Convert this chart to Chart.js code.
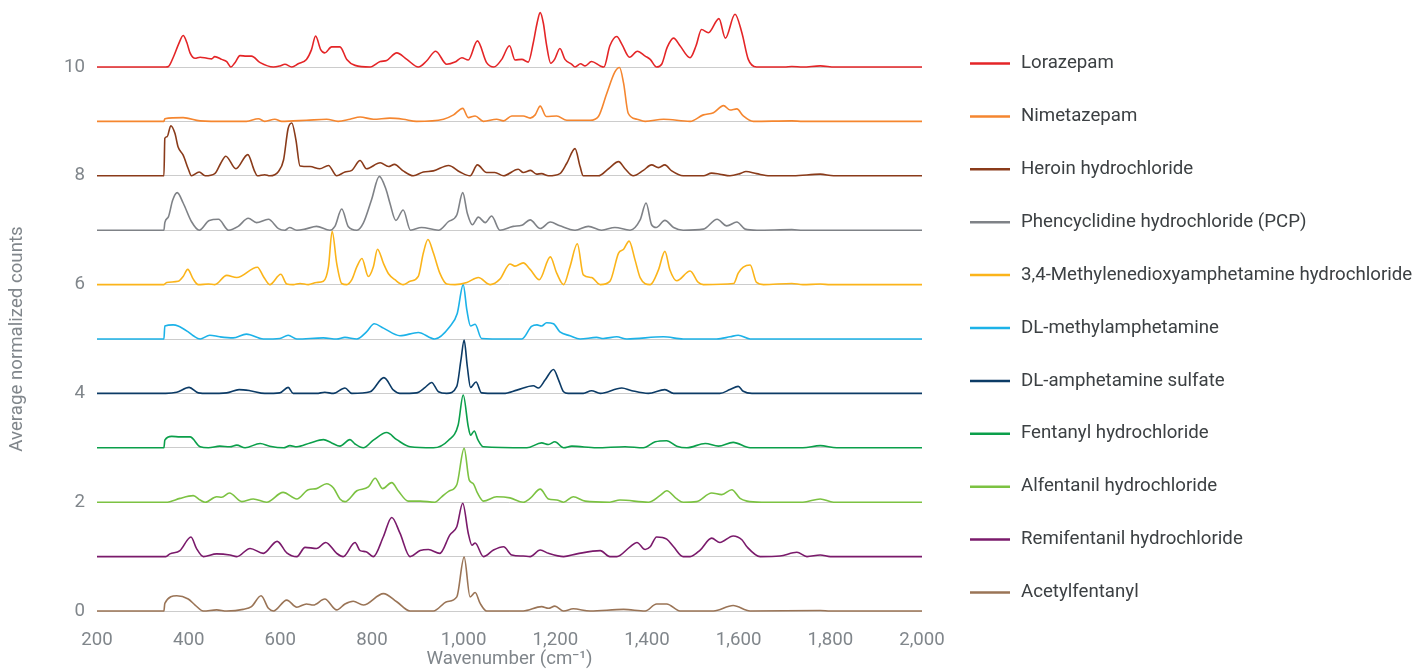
<!DOCTYPE html>
<html><head><meta charset="utf-8">
<script src="https://cdn.jsdelivr.net/npm/chart.js@4"></script>
<style>html,body{margin:0;padding:0;background:#fff}#wrap{width:1414px;height:671px;position:relative}</style>
</head><body><div id="wrap"><canvas id="c" width="1414" height="671"></canvas></div>
<script>
const seriesNames = ["Lorazepam","Nimetazepam","Heroin hydrochloride","Phencyclidine hydrochloride (PCP)","3,4-Methylenedioxyamphetamine hydrochloride","DL-methylamphetamine","DL-amphetamine sulfate","Fentanyl hydrochloride","Alfentanil hydrochloride","Remifentanil hydrochloride","Acetylfentanyl"];
const seriesColors = ["#e42527","#f5862f","#8a3b1a","#7f8287","#fbb41a","#1cb2e8","#0c3b66","#0b9f4a","#7cc242","#7a1a6b","#9a7456"];
const offsets = [10,9,8,7,6,5,4,3,2,1,0];
const xTicks = [200,400,600,800,1000,1200,1400,1600,1800,2000];
const yTickLabels = [0,2,4,6,8,10];

const lorazepam = [[200,0],[350,0],[356,0.01],[366,0.17],[378,0.42],[388,0.58],[396,0.45],[403,0.26],[414,0.16],[425,0.18],[440,0.16],[450,0.15],[457,0.19],[472,0.14],[483,0.10],[492,0],[501,0.08],[512,0.21],[526,0.20],[537,0.20],[556,0.08],[585,0],[599,0.02],[610,0.05],[625,0],[639,0.06],[657,0.14],[668,0.32],[677,0.57],[688,0.32],[697,0.26],[712,0.37],[730,0.37],[745,0.14],[763,0.03],[796,0],[818,0.10],[832,0.12],[854,0.26],[876,0.14],[901,0],[919,0.11],[939,0.29],[963,0.05],[981,0.09],[996,0.17],[1010,0.13],[1030,0.48],[1050,0.08],[1066,0],[1083,0.14],[1100,0.39],[1112,0.13],[1127,0.14],[1141,0.09],[1152,0.45],[1160,0.80],[1167,1.0],[1174,0.80],[1180,0.45],[1190,0.07],[1199,0.15],[1210,0.34],[1221,0.14],[1236,0.05],[1243,0],[1255,0.06],[1265,0.02],[1279,0.10],[1298,0.02],[1306,0],[1319,0.39],[1334,0.56],[1345,0.42],[1362,0.18],[1379,0.29],[1396,0.20],[1407,0.14],[1421,0],[1432,0.05],[1444,0.36],[1458,0.53],[1472,0.39],[1494,0.17],[1507,0.39],[1519,0.69],[1534,0.63],[1557,0.89],[1571,0.53],[1592,0.97],[1607,0.63],[1621,0.14],[1639,0],[1700,0],[1716,0.01],[1740,0],[1778,0.02],[1810,0],[2000,0]];
const nimetazepam = [[200,0],[346,0],[348,0.05],[388,0.07],[425,0.01],[483,0],[526,0],[552,0.05],[566,0],[588,0.04],[603,0],[628,0.01],[657,0.02],[701,0.04],[726,0],[752,0.04],[774,0.08],[803,0.04],[839,0.06],[868,0.04],[897,0],[956,0.04],[978,0.12],[998,0.24],[1010,0.07],[1025,0.10],[1043,0],[1072,0.04],[1087,0.01],[1105,0.10],[1130,0.10],[1145,0.06],[1156,0.12],[1167,0.28],[1180,0.09],[1203,0.10],[1225,0.02],[1276,0.02],[1294,0.09],[1312,0.51],[1330,0.91],[1340,0.99],[1349,0.70],[1359,0.15],[1378,0.04],[1396,0],[1436,0.04],[1494,0],[1523,0.12],[1545,0.16],[1567,0.29],[1581,0.21],[1596,0.23],[1610,0.10],[1632,0],[1716,0.01],[1740,0],[2000,0]];
const heroin = [[200,0],[346,0],[348,0.69],[353,0.72],[361,0.92],[370,0.78],[377,0.53],[388,0.38],[399,0.13],[406,0],[423,0.07],[436,0],[457,0.04],[470,0.23],[481,0.36],[503,0.13],[529,0.39],[543,0.10],[550,0],[566,0.02],[577,0],[596,0.08],[607,0.29],[617,0.87],[625,0.97],[634,0.66],[643,0.18],[665,0.17],[686,0.13],[705,0.19],[723,0],[741,0.07],[756,0.10],[774,0.28],[788,0.13],[818,0.24],[836,0.17],[849,0.21],[868,0.09],[890,0],[912,0.07],[934,0.09],[967,0.19],[992,0.07],[1014,0],[1030,0.20],[1050,0.06],[1068,0.06],[1087,0],[1119,0.12],[1130,0.06],[1146,0.10],[1159,0.03],[1170,0.04],[1185,0],[1210,0.04],[1225,0.23],[1243,0.50],[1254,0.17],[1261,0],[1294,0],[1316,0.13],[1338,0.26],[1352,0.13],[1370,0],[1392,0.10],[1410,0.20],[1425,0.15],[1439,0.20],[1454,0.09],[1479,0],[1523,0],[1541,0.05],[1559,0.03],[1581,0],[1603,0.04],[1616,0.08],[1639,0.04],[1668,0],[1719,0],[1778,0.03],[1807,0],[2000,0]];
const pcp = [[200,0],[346,0],[348,0.14],[356,0.25],[365,0.55],[375,0.69],[388,0.50],[406,0.16],[423,0],[445,0.18],[465,0.20],[487,0],[508,0.07],[530,0.22],[548,0.14],[574,0.20],[596,0.03],[610,0],[620,0.05],[636,0],[654,0.02],[679,0.07],[708,0],[719,0.07],[734,0.39],[748,0.07],[767,0],[781,0.13],[799,0.56],[816,0.99],[831,0.74],[839,0.50],[852,0.18],[868,0.37],[884,0],[908,0.05],[945,0],[967,0.16],[985,0.28],[998,0.69],[1008,0.31],[1019,0.10],[1032,0.24],[1047,0.14],[1061,0.26],[1079,0],[1108,0.07],[1127,0.09],[1145,0.19],[1167,0.03],[1189,0.15],[1210,0.08],[1243,0],[1272,0.07],[1301,0],[1330,0.05],[1363,0],[1385,0.19],[1398,0.50],[1410,0.10],[1420,0.05],[1439,0.18],[1458,0.05],[1479,0],[1523,0.02],[1553,0.20],[1574,0.08],[1596,0.15],[1614,0.02],[1640,0],[1716,0.01],[1740,0],[2000,0]];
const mda = [[200,0],[346,0],[352,0.04],[377,0.06],[388,0.15],[398,0.28],[410,0.10],[421,0],[443,0.01],[457,0],[483,0.17],[505,0.13],[550,0.32],[563,0.15],[577,0],[601,0.19],[614,0.01],[628,0],[643,0.02],[661,0],[679,0.04],[694,0.06],[705,0.33],[713,0.98],[723,0.39],[734,0.02],[745,0],[756,0.09],[767,0.33],[778,0.48],[792,0.15],[803,0.33],[812,0.65],[825,0.39],[836,0.20],[850,0.09],[868,0],[883,0.06],[901,0.15],[912,0.58],[922,0.83],[934,0.58],[948,0.21],[963,0.01],[981,0],[1007,0.04],[1032,0.13],[1058,0],[1079,0.10],[1101,0.38],[1112,0.34],[1130,0.40],[1145,0.28],[1165,0.09],[1189,0.51],[1203,0.21],[1218,0],[1232,0.33],[1248,0.75],[1261,0.18],[1279,0.13],[1298,0],[1319,0.06],[1338,0.58],[1349,0.65],[1361,0.80],[1374,0.45],[1385,0.13],[1407,0],[1425,0.27],[1439,0.61],[1450,0.27],[1465,0.07],[1494,0.25],[1512,0.04],[1523,0],[1589,0.02],[1599,0.21],[1610,0.32],[1625,0.36],[1639,0.04],[1654,0],[1716,0.02],[1740,0],[1778,0.01],[1800,0],[2000,0]];
const methylamphetamine = [[200,0],[346,0],[348,0.24],[366,0.26],[377,0.24],[399,0.13],[410,0.06],[425,0],[446,0.07],[468,0.04],[497,0.02],[526,0.09],[563,0],[599,0.01],[617,0.07],[636,0],[694,0.02],[723,0],[741,0.03],[767,0],[788,0.13],[805,0.28],[825,0.20],[861,0.06],[901,0.12],[937,0],[970,0.23],[986,0.47],[999,1.0],[1007,0.53],[1015,0.24],[1025,0.27],[1039,0.01],[1094,0],[1127,0],[1148,0.23],[1160,0.26],[1170,0.24],[1181,0.30],[1196,0.28],[1210,0.13],[1232,0.06],[1254,0],[1290,0.03],[1305,0.01],[1334,0.04],[1356,0],[1436,0.04],[1479,0],[1552,0],[1581,0.04],[1599,0.07],[1625,0],[2000,0]];
const amphetamine = [[200,0],[350,0],[374,0.02],[401,0.11],[421,0.01],[443,0],[483,0.01],[510,0.07],[534,0.05],[566,0],[599,0.01],[617,0.11],[628,0],[679,0],[697,0.02],[716,0],[741,0.10],[756,0],[796,0.03],[826,0.29],[847,0.06],[861,0],[897,0.01],[916,0.11],[930,0.20],[945,0.03],[963,0],[985,0.13],[994,0.61],[1001,0.98],[1008,0.49],[1015,0.11],[1027,0.21],[1039,0.01],[1072,0],[1087,0],[1116,0.06],[1152,0.14],[1163,0.10],[1178,0.25],[1196,0.44],[1207,0.25],[1218,0.03],[1228,0],[1261,0],[1279,0.05],[1298,0],[1345,0.10],[1367,0.05],[1403,0],[1439,0.07],[1458,0],[1559,0],[1581,0.07],[1599,0.13],[1610,0.04],[1629,0],[2000,0]];
const fentanyl = [[200,0],[346,0],[348,0.14],[363,0.21],[381,0.20],[403,0.20],[425,0.02],[443,0],[468,0.03],[490,0.02],[505,0.05],[523,0],[556,0.08],[577,0.03],[607,0],[621,0.04],[636,0.02],[665,0.09],[694,0.15],[712,0.09],[730,0.03],[752,0.15],[763,0.07],[781,0],[803,0.14],[832,0.28],[854,0.15],[883,0.02],[934,0],[967,0.14],[988,0.42],[999,0.97],[1010,0.39],[1015,0.23],[1023,0.31],[1031,0.15],[1043,0.02],[1138,0],[1170,0.09],[1185,0.06],[1199,0.11],[1218,0],[1236,0.03],[1290,0],[1352,0.02],[1392,0],[1418,0.11],[1443,0.13],[1465,0.03],[1487,0],[1527,0.08],[1556,0.03],[1588,0.10],[1625,0],[1740,0],[1778,0.04],[1814,0],[2000,0]];
const alfentanil = [[200,0],[350,0],[359,0.01],[381,0.07],[410,0.12],[425,0.04],[436,0],[461,0.10],[472,0.09],[489,0.17],[516,0.01],[541,0.06],[570,0],[606,0.18],[636,0.06],[661,0.23],[679,0.25],[701,0.34],[716,0.26],[730,0.06],[741,0.01],[767,0.21],[792,0.28],[807,0.44],[823,0.25],[843,0.36],[858,0.20],[879,0.02],[905,0.02],[937,0],[952,0.10],[967,0.20],[985,0.32],[1001,0.99],[1012,0.41],[1021,0.34],[1030,0.17],[1043,0.02],[1072,0.10],[1101,0.08],[1130,0],[1145,0.07],[1167,0.24],[1185,0.06],[1203,0.04],[1218,0],[1239,0.10],[1265,0.02],[1319,0],[1341,0.04],[1403,0],[1428,0.12],[1443,0.21],[1465,0.06],[1479,0],[1508,0.01],[1541,0.17],[1563,0.14],[1585,0.23],[1603,0.07],[1618,0.02],[1650,0],[1740,0],[1778,0.06],[1807,0],[2000,0]];
const remifentanil = [[200,0],[350,0],[359,0.05],[381,0.11],[405,0.36],[417,0.15],[432,0],[461,0.05],[490,0.03],[505,0],[534,0.15],[563,0.06],[593,0.28],[614,0.07],[636,0],[654,0.17],[679,0.15],[699,0.26],[723,0.06],[737,0],[763,0.26],[774,0.11],[787,0.09],[803,0],[825,0.37],[843,0.72],[861,0.43],[883,0],[905,0.11],[923,0.13],[948,0.06],[970,0.40],[985,0.55],[998,0.98],[1010,0.43],[1018,0.21],[1025,0.25],[1043,0],[1065,0.12],[1087,0.18],[1105,0.03],[1130,0.01],[1145,0],[1167,0.12],[1185,0.06],[1218,0],[1247,0.05],[1298,0.11],[1319,0],[1334,0],[1363,0.18],[1378,0.26],[1396,0.13],[1407,0.18],[1421,0.36],[1443,0.32],[1458,0.18],[1479,0],[1494,0],[1516,0.12],[1541,0.34],[1559,0.26],[1588,0.38],[1607,0.31],[1618,0.18],[1647,0],[1690,0.01],[1727,0.08],[1749,0],[1778,0.03],[1800,0],[2000,0]];
const acetylfentanyl = [[200,0],[346,0],[348,0.14],[374,0.28],[399,0.22],[414,0.11],[432,0],[461,0.02],[483,0],[519,0.03],[537,0.08],[558,0.28],[574,0.05],[585,0],[614,0.20],[636,0.07],[657,0.13],[672,0.11],[697,0.22],[723,0.02],[741,0.13],[759,0.18],[781,0.11],[825,0.32],[854,0.17],[883,0],[934,0],[963,0.17],[985,0.26],[1001,0.99],[1014,0.26],[1025,0.34],[1036,0.14],[1050,0],[1130,0],[1170,0.08],[1185,0.05],[1199,0.09],[1218,0],[1239,0.04],[1276,0],[1349,0.03],[1396,0],[1421,0.13],[1443,0.13],[1472,0],[1545,0],[1588,0.10],[1625,0],[1778,0.01],[1800,0],[2000,0]];

const seriesData = [lorazepam,nimetazepam,heroin,pcp,mda,methylamphetamine,amphetamine,fentanyl,alfentanil,remifentanil,acetylfentanyl];

const grayText = '#80868b';
const fontSize = 18.67;
const datasets = seriesData.map((arr,i)=>({
  label: seriesNames[i],
  data: arr.map(p=>({x:p[0], y:p[1]+offsets[i]})),
  borderColor: seriesColors[i],
  backgroundColor: seriesColors[i],
  borderWidth: 1.6,
  pointRadius: 0,
  fill: false,
  cubicInterpolationMode: 'monotone',
  clip: false
}));

const decorPlugin = {
  id: 'decor',
  afterDraw(chart){
    const ctx = chart.ctx;
    ctx.save();
    ctx.font = fontSize + 'px Roboto';
    ctx.textBaseline = 'middle';
    ctx.textAlign = 'left';
    seriesNames.forEach((n,i)=>{
      const y = 63.5 + i*52.9;
      ctx.strokeStyle = seriesColors[i];
      ctx.lineWidth = 2.5;
      ctx.beginPath(); ctx.moveTo(970,y); ctx.lineTo(1010,y); ctx.stroke();
      ctx.fillStyle = '#3c4043';
      ctx.fillText(n, 1021, y);
    });
    // y-axis title
    ctx.translate(17, 339);
    ctx.rotate(-Math.PI/2);
    ctx.textAlign = 'center';
    ctx.fillStyle = grayText;
    ctx.fillText('Average normalized counts', 0, 0);
    ctx.restore();
  }
};

new Chart(document.getElementById('c'), {
  type: 'line',
  data: { datasets },
  plugins: [decorPlugin],
  options: {
    responsive: false,
    animation: false,
    devicePixelRatio: 1,
    layout: { padding: { left: 0, right: 492, top: 7.16, bottom: 0 } },
    plugins: { legend: { display: false }, tooltip: { enabled: false } },
    scales: {
      x: {
        type: 'linear', min: xTicks[0], max: xTicks[xTicks.length-1],
        afterBuildTicks: s => { s.ticks = xTicks.map(v=>({value:v})); },
        afterFit: s => { s.height = 60; },
        ticks: { color: grayText, font: { family: 'Roboto', size: fontSize }, padding: 10, maxRotation: 0,
          callback: v => Number(v).toLocaleString('en-US') },
        grid: { display: false },
        border: { display: false },
        title: { display: true, text: 'Wavenumber (cm⁻¹)', color: grayText, font: { family: 'Roboto', size: fontSize }, padding: { top: -1, bottom: 0 } }
      },
      y: {
        type: 'linear', min: 0, max: 11.1,
        afterBuildTicks: s => { s.ticks = offsets.slice().reverse().map(v=>({value:v})); },
        afterFit: s => { s.width = 97; s.paddingTop = 0; s.paddingBottom = 0; },
        ticks: { color: grayText, font: { family: 'Roboto', size: fontSize }, padding: 12, autoSkip: false,
          callback: v => yTickLabels.includes(v) ? String(v) : '' },
        grid: { color: '#cccccc', lineWidth: 1, drawTicks: false },
        border: { display: false }
      }
    }
  }
});
</script></body></html>
